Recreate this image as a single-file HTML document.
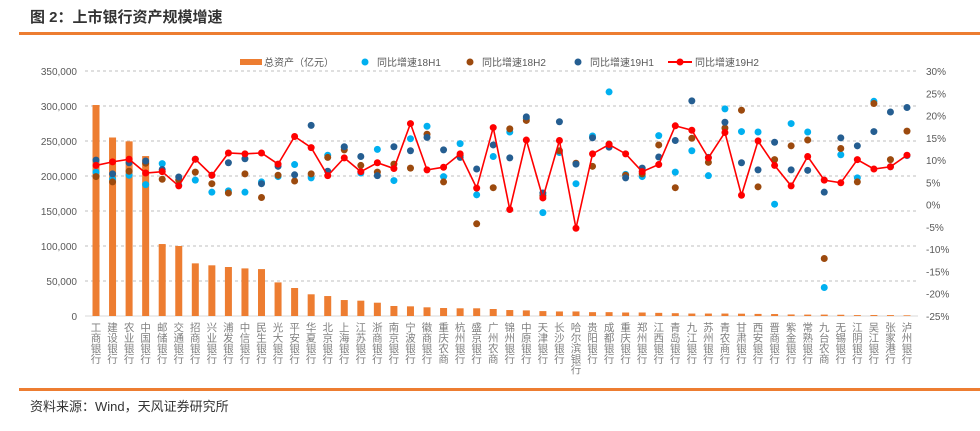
<!DOCTYPE html>
<html><head><meta charset="utf-8"><style>
body{margin:0;width:980px;height:431px;background:#fff;overflow:hidden;font-family:"Liberation Sans","Noto Sans CJK SC",sans-serif;}
#title{position:absolute;left:30px;top:6px;font-size:15px;font-weight:bold;color:#333;}
#src{position:absolute;left:30px;top:396px;font-size:13px;color:#333;}
.hl{position:absolute;left:19px;width:961px;height:3px;background:#ED7D31;}
svg{position:absolute;left:0;top:0;}
</style></head><body>
<div id="title">图 2：上市银行资产规模增速</div>
<div class="hl" style="top:32px"></div>
<div class="hl" style="top:388px"></div>
<div id="src">资料来源：Wind，天风证券研究所</div>
<svg id="chart" width="980" height="431"></svg>
<script>
const banks=["工商银行","建设银行","农业银行","中国银行","邮储银行","交通银行","招商银行","兴业银行","浦发银行","中信银行","民生银行","光大银行","平安银行","华夏银行","北京银行","上海银行","江苏银行","浙商银行","南京银行","宁波银行","徽商银行","重庆农商","杭州银行","盛京银行","广州农商","锦州银行","中原银行","天津银行","长沙银行","哈尔滨银行","贵阳银行","成都银行","重庆银行","郑州银行","江西银行","青岛银行","九江银行","苏州银行","青农商行","甘肃银行","西安银行","晋商银行","紫金银行","常熟银行","九台农商","无锡银行","江阴银行","吴江银行","张家港行","泸州银行"];
const assets=[301400,255000,249500,228500,102800,100000,75200,72400,70000,68000,67000,48000,40000,31000,28500,22800,21900,19000,14300,13800,12400,11400,11000,11000,10000,8500,8000,7000,6500,6500,5500,5500,5000,5000,4500,4000,3500,3500,3500,3300,3000,2800,2200,2000,2000,1800,1300,1400,1300,1000];
const g18H1=[7.3,5.7,6.6,4.5,9.2,4.4,5.5,2.8,3.1,2.8,5.1,6.3,9.0,6.0,11.1,12.8,7.1,12.4,5.4,14.8,17.6,6.3,13.7,2.2,10.8,16.3,19.3,-1.8,11.7,4.7,15.4,25.3,6.8,6.3,15.5,7.3,12.1,6.5,21.5,16.4,16.3,0.1,18.2,16.3,-18.6,11.2,6.0,23.2,8.5,11.0];
const g18H2=[6.3,5.1,7.5,9.3,5.7,5.5,7.3,4.7,2.6,6.9,1.6,6.6,5.3,6.9,10.6,12.3,8.8,7.3,9.1,8.2,15.8,5.1,11.0,-4.3,3.8,17.0,18.9,2.0,12.1,9.3,8.6,13.6,6.6,6.9,13.4,3.8,14.9,9.5,17.2,21.2,4.0,10.1,13.2,14.5,-12.1,12.6,5.1,22.7,10.1,16.5];
const g19H1=[10.0,6.9,9.4,9.8,7.9,6.2,10.2,6.6,9.4,10.3,4.7,8.6,6.7,17.8,7.5,13.0,10.8,6.5,13.0,12.1,15.1,12.3,10.6,8.0,13.4,10.5,19.7,2.6,18.6,9.1,15.0,12.9,6.0,8.2,10.7,14.4,23.3,10.6,18.5,9.4,7.8,14.0,7.8,7.7,2.8,15.0,13.2,16.4,20.8,21.8];
const g19H2=[8.8,9.6,10.2,7.1,7.4,4.2,10.2,6.6,11.6,11.4,11.6,9.1,15.3,12.8,6.5,10.5,7.4,9.4,8.1,18.2,7.8,8.4,11.4,3.7,17.3,-1.1,14.5,1.5,14.4,-5.3,11.4,13.5,11.4,7.4,9.0,17.7,16.7,10.5,16.2,2.1,14.3,8.8,4.2,10.8,5.5,4.9,10.1,8.0,8.5,11.1];
const leftTicks=[0,50000,100000,150000,200000,250000,300000,350000];
const rightTicks=[-25,-20,-15,-10,-5,0,5,10,15,20,25,30];
const NS="http://www.w3.org/2000/svg";
const svg=document.getElementById('chart');
const X0=96,X1=907,Y0=316,Y1=71,XL=85,XR=918;
const xs=i=>X0+(X1-X0)*i/(banks.length-1);
const yl=v=>Y0-(Y0-Y1)*v/350000;
const yr=v=>Y0-(Y0-Y1)*(v+25)/55;
function el(t,a,p){const e=document.createElementNS(NS,t);for(const k in a)e.setAttribute(k,a[k]);(p||svg).appendChild(e);return e;}
leftTicks.forEach(v=>{
  const y=yl(v);
  if(v>0){const l=el('line',{x1:XL,x2:XR,y1:y,y2:y,stroke:'#bfbfbf','stroke-dasharray':'3,3','stroke-width':1});
  
  }
  const t=el('text',{x:77,y:y+4,'text-anchor':'end','font-size':10,fill:'#595959'});
  t.textContent=v.toLocaleString('en-US');
  
  
});
rightTicks.forEach(v=>{
  const t=el('text',{x:926,y:yr(v)+4,'font-size':10,fill:'#595959'});
  t.textContent=v+'%';
  
  
});
const ax=el('line',{x1:XL,x2:XR,y1:Y0,y2:Y0,stroke:'#d9d9d9','stroke-width':1});


banks.forEach((b,i)=>{
  const x=xs(i);
  const r=el('rect',{x:x-3.5,y:yl(assets[i]),width:7,height:Y0-yl(assets[i]),fill:'#ED7D31'});
  
  
  const t=el('text',{x:x,'font-size':10.5,fill:'#7f7f7f','text-anchor':'middle'});
  
  
  [...b].forEach((c,k)=>{const s=el('tspan',{x:x,y:331+k*10.5},t);s.textContent=c;});
});
function dots(arr,color,name){arr.forEach((v,i)=>{
  const c=el('circle',{cx:xs(i),cy:yr(v),r:3.5,fill:color});
  
  
});}
dots(g18H1,'#00B0F0','dot-18h1');
dots(g18H2,'#9C4A0E','dot-18h2');
dots(g19H1,'#255E91','dot-19h1');
const pl=el('polyline',{points:g19H2.map((v,i)=>xs(i)+','+yr(v)).join(' '),fill:'none',stroke:'#FF0000','stroke-width':1.6});


dots(g19H2,'#FF0000','point-19h2');
const lg=el('g',{});


el('rect',{x:240,y:59,width:22,height:6,fill:'#ED7D31'},lg);
el('circle',{cx:365,cy:62,r:3.5,fill:'#00B0F0'},lg);
el('circle',{cx:470,cy:62,r:3.5,fill:'#9C4A0E'},lg);
el('circle',{cx:578,cy:62,r:3.5,fill:'#255E91'},lg);
el('line',{x1:668,x2:692,y1:62,y2:62,stroke:'#FF0000','stroke-width':2},lg);
el('circle',{cx:680,cy:62,r:3.5,fill:'#FF0000'},lg);
[[264,'总资产（亿元）'],[377,'同比增速18H1'],[482,'同比增速18H2'],[590,'同比增速19H1'],[695,'同比增速19H2']].forEach(([x,s])=>{
  const t=el('text',{x:x,y:66,'font-size':10,fill:'#595959'},lg);t.textContent=s;
  
  
});
</script>
</body></html>
